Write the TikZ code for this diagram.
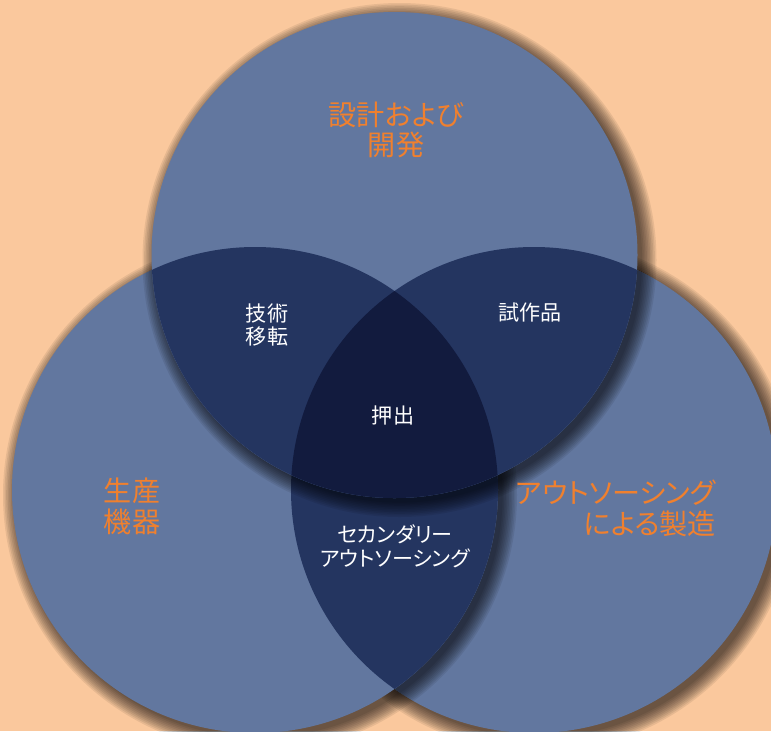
\documentclass[tikz,border=0pt]{standalone}
\usepackage{fontspec}
\newfontfamily\jpfont[RawFeature=+palt]{Noto Sans CJK JP}
\definecolor{peach}{HTML}{FAC89D}
\definecolor{vennone}{HTML}{62779F}
\definecolor{venntwo}{HTML}{243560}
\definecolor{vennthree}{HTML}{121B3E}
\definecolor{vennorange}{HTML}{F0802E}
\newcommand\rad{243}
% soft drop shadow of a circle, offset down right
\newcommand\circshadow[1]{%
  \foreach \k in {0,...,9}
    \fill[black,opacity=0.08] ([shift={(5,5)}]#1) circle[radius=\rad+14-\k*1.6];}

\begin{document}
\begin{tikzpicture}
  [
    x=0.02cm,y=-0.02cm,
    big/.style={font=\jpfont\fontsize{16}{17.5}\selectfont, text=vennorange, align=center},
    small/.style={font=\jpfont\fontsize{12}{13.5}\selectfont, text=white, align=center}
  ]
  \fill[peach] (0,0) rectangle (771,731);
  \useasboundingbox (0,0) rectangle (771,731);

  \coordinate (ct) at (394.5,255);
  \coordinate (cl) at (255,490);
  \coordinate (cr) at (534,490);

  \circshadow{cr}
  \circshadow{cl}
  \circshadow{ct}

  % right circle, lowest
  \fill[vennone] (cr) circle[radius=\rad];
  \begin{scope}
    \clip (cr) circle[radius=\rad];
    \circshadow{cl}
  \end{scope}

  % left circle
  \fill[vennone] (cl) circle[radius=\rad];
  \begin{scope}
    \clip (cl) circle[radius=\rad];
    \fill[venntwo] (cr) circle[radius=\rad];
  \end{scope}
  \begin{scope}
    \clip (cl) circle[radius=\rad] (cr) circle[radius=\rad];
    \circshadow{ct}
  \end{scope}

  % top circle
  \fill[vennone] (ct) circle[radius=\rad];
  \begin{scope}
    \clip (ct) circle[radius=\rad];
    \fill[venntwo] (cl) circle[radius=\rad] (cr) circle[radius=\rad];
    \clip (cl) circle[radius=\rad];
    \fill[vennthree] (cr) circle[radius=\rad];
  \end{scope}

  \node[big] (design) at (396,130) {設計および\\開発};
  \node[big] (equip) at (132,506) {生産\\機器};
  \node[big, align=right, anchor=east] (outsrc) at (722,508) {アウトソーシング\\による製造};
  \node[small] (transfer) at (267,325) {技術\\移転};
  \node[small] (proto) at (530,313) {試作品};
  \node[small] (extrude) at (393,415) {押出};
  \node[small] (second) at (395,546) {セカンダリー\\アウトソーシング};
\end{tikzpicture}
\end{document}
